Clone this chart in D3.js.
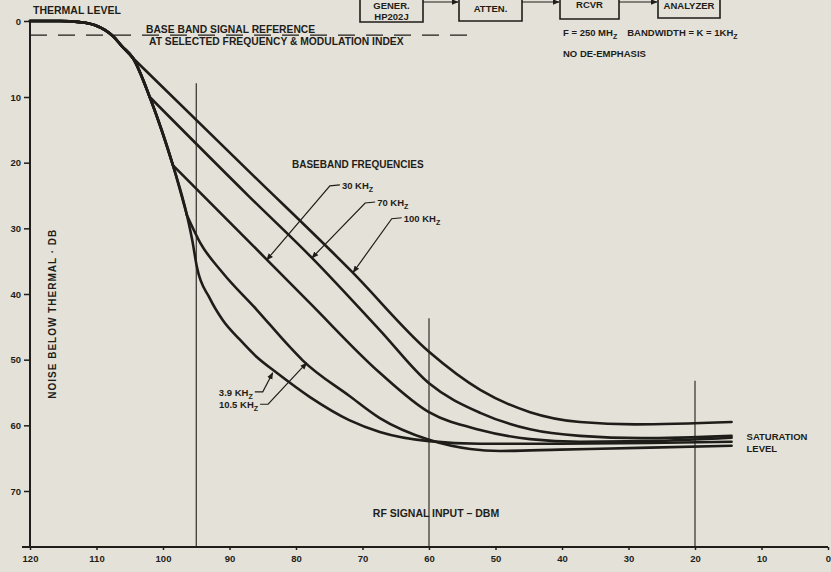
<!DOCTYPE html>
<html><head><meta charset="utf-8">
<script src="https://cdn.jsdelivr.net/npm/d3@7"></script>
<style>
html,body{margin:0;padding:0;background:#e4e2d8;}
svg{display:block;font-family:"Liberation Sans",Arial,sans-serif;font-weight:bold;}
</style></head><body>
<svg id="chart" width="831" height="572"></svg>
<script>
// Axis ticks
const xTicks = [120, 110, 100, 90, 80, 70, 60, 50, 40, 30, 20, 10, 0];
const yTicks = [0, 10, 20, 30, 40, 50, 60, 70];

// Noise below thermal (dB) versus RF signal input (dBm), one curve per baseband frequency
const seriesNames = ["100 KHz", "70 KHz", "30 KHz", "10.5 KHz", "3.9 KHz"];
const dbm100k = [120, 115.5, 112.5, 110.2, 108.7, 107.5, 106.2, 104.5, 87, 71.6, 60, 52.3, 44.8, 37.3, 29, 14.5];
const db100k  = [0, 0, 0.15, 0.55, 1.2, 2.0, 3.3, 4.9, 21.4, 36.6, 48.8, 54.6, 58.0, 59.5, 59.85, 59.5];
const dbm70k  = [120, 115.5, 112.5, 110.2, 108.7, 107.5, 106.2, 104.5, 102, 87, 77.6, 67.4, 60, 52.3, 44.8, 37.3, 28, 14.5];
const db70k   = [0, 0, 0.15, 0.55, 1.2, 2.0, 3.3, 4.9, 10, 25.2, 34.5, 45.5, 53.6, 58.1, 60.6, 61.6, 61.95, 61.6];
const dbm30k  = [120, 115.5, 112.5, 110.2, 108.7, 107.5, 106.2, 104.5, 102, 98.5, 87, 77.9, 67.4, 60, 52.3, 44.8, 37.3, 26.8, 14.5];
const db30k   = [0, 0, 0.15, 0.55, 1.2, 2.0, 3.3, 4.9, 10, 20.4, 32.1, 41.4, 52.0, 58.0, 60.7, 62.1, 62.5, 62.4, 61.9];
const dbm10k5 = [120, 115.5, 112.5, 110.2, 108.7, 107.5, 106.2, 104.5, 102, 98.5, 96.4, 94.4, 91, 85.9, 80.9, 79, 72, 67.4, 60, 53.8, 49.3, 40.3, 26.8, 14.5];
const db10k5  = [0, 0, 0.15, 0.55, 1.2, 2.0, 3.3, 4.9, 10, 20.4, 28.0, 32.2, 36.8, 42.4, 48.1, 50.1, 55.5, 58.9, 62.2, 63.6, 63.9, 63.7, 63.4, 63.1];
const dbm3k9  = [120, 115.5, 112.5, 110.2, 108.7, 107.5, 106.2, 104.5, 102, 98.5, 96.4, 95.6, 94.9, 93, 91, 88.4, 85.9, 82.9, 77.9, 72, 67.4, 60, 52.3, 40.3, 26.8, 14.5];
const db3k9   = [0, 0, 0.15, 0.55, 1.2, 2.0, 3.3, 4.9, 10, 20.4, 28.0, 31.8, 35.9, 40.6, 44.0, 47.0, 49.6, 52.0, 55.7, 59.2, 61.0, 62.4, 62.8, 62.8, 62.7, 62.5];
// input level (dBm) at which each curve leaves the common thermal curve (null: it continues it)
const leaveDbm = [104.5, 102, 98.5, 96.4, null];

// Vertical reference lines (dBm) and the level (dB) where each starts
const refLineDbm = [95, 60, 20];
const refLineTopDb = [8.2, 43.7, 53.2];

// Baseband signal reference level
const refLevelDb = 1.85;
const refLevelEndDbm = 53.8;

// Frequency callouts: arrow tip on the curve, and where the label sits
const calloutLabels = ["30 KHz", "70  KHz", "100 KHz", "3.9 KHz", "10.5 KHz"];
const calloutTipDbm = [84.4, 77.6, 71.4, 83.5, 78.4];
const calloutTipDb = [34.8, 34.5, 36.7, 52.0, 50.5];
const calloutTextDbm = [73.1, 67.8, 63.8, 86.5, 85.7];
const calloutTextDb = [24.0, 26.6, 29.0, 55.5, 57.4];
const calloutAnchor = ["start", "start", "start", "end", "end"];

const ink = "#1f1d19";
const svg = d3.select("#chart");
const W = 831, H = 572;
const axisY = 547;

const x = d3.scaleLinear().domain([120, 0]).range([30, 828]);
const y = d3.scaleLinear().domain([0, 10, 70]).range([21, 97, 491]);

svg.append("rect").attr("width", W).attr("height", H).attr("fill", "#e4e2d8");

// arrowhead marker
svg.append("defs").append("marker")
  .attr("id", "arrow").attr("viewBox", "0 0 10 10")
  .attr("refX", 9).attr("refY", 5)
  .attr("markerWidth", 7).attr("markerHeight", 7)
  .attr("markerUnits", "userSpaceOnUse")
  .attr("orient", "auto")
  .append("path").attr("d", "M0,1 L10,5 L0,9 Z").attr("fill", ink);

// Helper: text with a subscript final "z"
function subText(sel, label, size) {
  sel.append("tspan").text(label.slice(0, -1));
  sel.append("tspan").attr("dy", 3).attr("font-size", size * 0.75).text(label.slice(-1).toUpperCase());
}

// ---- Test set-up block diagram along the top edge
const boxes = [
  {x0: 360, x1: 423, b: 22, lines: [["GENER.", 9], ["HP202J", 20]]},
  {x0: 459, x1: 522, b: 21, lines: [["ATTEN.", 12]]},
  {x0: 560, x1: 619, b: 19, lines: [["RCVR", 8]]},
  {x0: 658, x1: 720, b: 18, lines: [["ANALYZER", 9]]}
];
boxes.forEach(bx => {
  svg.append("path").attr("d", `M${bx.x0},-5 V${bx.b} H${bx.x1} V-5`)
    .attr("fill", "none").attr("stroke", ink).attr("stroke-width", 1.6);
  bx.lines.forEach(([t, by]) => {
    svg.append("text").attr("x", (bx.x0 + bx.x1) / 2).attr("y", by)
      .attr("text-anchor", "middle").attr("font-size", 9.5).attr("fill", ink).text(t);
  });
});
for (let i = 0; i < boxes.length - 1; i++) {
  svg.append("line").attr("x1", boxes[i].x1).attr("x2", boxes[i + 1].x0 - 1)
    .attr("y1", 2).attr("y2", 2).attr("stroke", ink).attr("stroke-width", 1.2)
    .attr("marker-end", "url(#arrow)");
}

const fNote = svg.append("text").attr("x", 563).attr("y", 36).attr("font-size", 9.5).attr("fill", ink);
fNote.append("tspan").text("F = 250 MH");
fNote.append("tspan").attr("dy", 3).attr("font-size", 7).text("Z");
fNote.append("tspan").attr("dy", -3).attr("dx", 10).text("BANDWIDTH = K = 1KH");
fNote.append("tspan").attr("dy", 3).attr("font-size", 7).text("Z");
svg.append("text").attr("x", 563).attr("y", 57).attr("font-size", 9.5).attr("fill", ink).text("NO DE-EMPHASIS");

// ---- Axes
const gx = svg.append("g").attr("transform", `translate(0,${axisY})`)
  .call(d3.axisBottom(x).tickValues(xTicks).tickSize(3).tickSizeOuter(0).tickPadding(5));
gx.select(".domain").remove();
gx.selectAll("line").attr("stroke", ink).attr("stroke-width", 1.5);
gx.selectAll("text").attr("font-size", 9.5).attr("font-family", "Liberation Sans, Arial, sans-serif")
  .attr("font-weight", "bold").attr("fill", ink);
svg.append("line").attr("x1", 22).attr("x2", x(0)).attr("y1", axisY).attr("y2", axisY)
  .attr("stroke", ink).attr("stroke-width", 2);

const gy = svg.append("g").attr("transform", `translate(${x(120)},0)`)
  .call(d3.axisLeft(y).tickValues(yTicks).tickSize(6).tickSizeOuter(0).tickPadding(3));
gy.select(".domain").remove();
gy.selectAll("line").attr("stroke", ink).attr("stroke-width", 1.5);
gy.selectAll("text").attr("font-size", 9.5).attr("font-family", "Liberation Sans, Arial, sans-serif")
  .attr("font-weight", "bold").attr("fill", ink);
svg.append("line").attr("x1", x(120)).attr("x2", x(120)).attr("y1", y(0)).attr("y2", axisY + 1)
  .attr("stroke", ink).attr("stroke-width", 2);

// axis titles
svg.append("text").attr("transform", `translate(56,${y(43)}) rotate(-90)`)
  .attr("text-anchor", "middle").attr("font-size", 10).attr("letter-spacing", 1).attr("fill", ink)
  .text("NOISE BELOW THERMAL · DB");
svg.append("text").attr("x", 436).attr("y", 517).attr("text-anchor", "middle")
  .attr("font-size", 10.5).attr("fill", ink).text("RF SIGNAL INPUT – DBM");

// ---- Vertical reference lines
refLineDbm.forEach((v, i) => {
  svg.append("line").attr("x1", x(v)).attr("x2", x(v))
    .attr("y1", y(refLineTopDb[i])).attr("y2", axisY)
    .attr("stroke", ink).attr("stroke-width", 1.1);
});

// ---- Thermal level and signal reference
svg.append("text").attr("x", 33).attr("y", 14).attr("font-size", 10.5).attr("fill", ink).text("THERMAL LEVEL");
svg.append("line").attr("x1", x(120)).attr("x2", x(refLevelEndDbm))
  .attr("y1", y(refLevelDb)).attr("y2", y(refLevelDb))
  .attr("stroke", ink).attr("stroke-width", 1.3).attr("stroke-dasharray", "17,11");
svg.append("text").attr("x", 146).attr("y", 33).attr("font-size", 10.3).attr("fill", ink)
  .text("BASE BAND SIGNAL REFERENCE");
svg.append("text").attr("x", 149).attr("y", 45).attr("font-size", 10.3).attr("fill", ink)
  .text("AT SELECTED FREQUENCY & MODULATION INDEX");

// ---- Curves: common thermal part, then each branch drawn from where it leaves
const curveData = [
  [dbm100k, db100k], [dbm70k, db70k], [dbm30k, db30k], [dbm10k5, db10k5], [dbm3k9, db3k9]
];
const line = d3.line().x(d => x(d[0])).y(d => y(d[1])).curve(d3.curveMonotoneX);
curveData.forEach(([xs, ys], i) => {
  const pts = xs.map((v, j) => [v, ys[j]]);
  const k = leaveDbm[i] == null ? -1 : xs.indexOf(leaveDbm[i]);
  const pieces = k > 0 ? [pts.slice(0, k + 1), pts.slice(k)] : [pts];
  const g = svg.append("g").attr("class", "curve").attr("data-name", seriesNames[i]);
  pieces.forEach(p => {
    g.append("path").datum(p).attr("d", line).attr("fill", "none").attr("stroke", ink)
      .attr("stroke-width", 2.6).attr("stroke-linejoin", "round").attr("stroke-linecap", "round");
  });
});

// ---- Labels
svg.append("text").attr("x", 292).attr("y", 168).attr("font-size", 10).attr("fill", ink)
  .text("BASEBAND FREQUENCIES");

calloutLabels.forEach((lab, i) => {
  const tx = x(calloutTextDbm[i]), ty = y(calloutTextDb[i]);
  const px = x(calloutTipDbm[i]), py = y(calloutTipDb[i]);
  const start = calloutAnchor[i] === "start";
  const e1 = start ? [tx - 2, ty - 4] : [tx + 2, ty - 4];
  const e2 = start ? [tx - 12, ty - 3] : [tx + 10, ty - 4];
  svg.append("path").attr("d", `M${e1[0]},${e1[1]} L${e2[0]},${e2[1]} L${px},${py}`)
    .attr("fill", "none").attr("stroke", ink).attr("stroke-width", 1.2)
    .attr("marker-end", "url(#arrow)");
  const t = svg.append("text").attr("x", tx).attr("y", ty).attr("text-anchor", calloutAnchor[i])
    .attr("font-size", 9.5).attr("fill", ink);
  subText(t, lab, 9.5);
});

svg.append("text").attr("x", x(14.5) + 15).attr("y", 440).attr("font-size", 9.5).attr("fill", ink).text("SATURATION");
svg.append("text").attr("x", x(14.5) + 15).attr("y", 452).attr("font-size", 9.5).attr("fill", ink).text("LEVEL");
</script>
</body></html>
